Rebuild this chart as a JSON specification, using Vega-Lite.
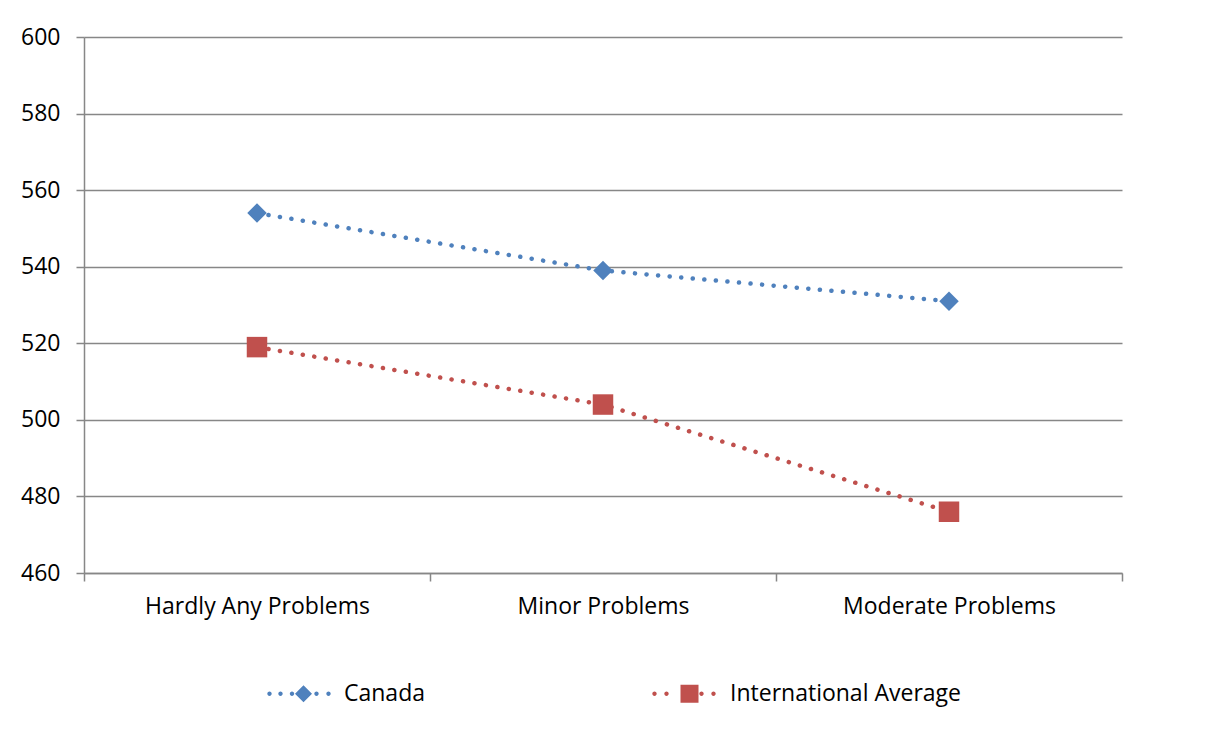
{
  "$schema": "https://vega.github.io/schema/vega-lite/v6.json",
  "width": 1038,
  "height": 536,
  "autosize": {"type": "none"},
  "padding": {"left": 84, "top": 37, "right": 90, "bottom": 161},
  "background": "white",
  "data": {
    "values": [
      {"problems": "Hardly Any Problems", "series": "Canada", "score": 554},
      {"problems": "Minor Problems", "series": "Canada", "score": 539},
      {"problems": "Moderate Problems", "series": "Canada", "score": 531},
      {"problems": "Hardly Any Problems", "series": "International Average", "score": 519},
      {"problems": "Minor Problems", "series": "International Average", "score": 504},
      {"problems": "Moderate Problems", "series": "International Average", "score": 476}
    ]
  },
  "encoding": {
    "x": {
      "field": "problems", "type": "nominal", "sort": null, "title": null,
      "scale": {"type": "band", "paddingInner": 0, "paddingOuter": 0},
      "axis": {
        "tickBand": "extent", "labelAngle": 0, "grid": false, "ticks": true, "tickSize": 8,
        "tickColor": "#878787", "tickWidth": 1.5, "domainColor": "#878787", "domainWidth": 1.5,
        "labelFont": "Open Sans", "labelFontSize": 23, "labelColor": "#000000", "labelPadding": 14, "labelLimit": 400
      }
    },
    "y": {
      "field": "score", "type": "quantitative", "title": null,
      "scale": {"domain": [460, 600], "nice": false, "zero": false},
      "axis": {
        "values": [460, 480, 500, 520, 540, 560, 580, 600],
        "grid": true, "gridColor": "#878787", "gridWidth": 1.5, "gridOpacity": 1,
        "tickSize": 8, "tickColor": "#878787", "tickWidth": 1.5,
        "domainColor": "#878787", "domainWidth": 1.5,
        "labelFont": "Open Sans", "labelFontSize": 23, "labelColor": "#000000", "labelPadding": 16
      }
    },
    "color": {
      "field": "series", "type": "nominal", "title": null,
      "scale": {"domain": ["Canada", "International Average"], "range": ["#4F81BD", "#C0504D"]},
      "legend": {
        "orient": "none",
        "legendX": 208,
        "legendY": 645,
        "direction": "horizontal",
        "padding": 0,
        "symbolSize": 400,
        "gridAlign": "all",
        "columnPadding": 77,
        "labelOffset": 29,
        "labelFont": "Open Sans",
        "labelFontSize": 23,
        "labelColor": "#000000",
        "labelLimit": 400,
        "symbolStrokeWidth": 0,
        "symbolOpacity": 1,
        "encode": {
          "symbols": {
            "update": {
              "shape": {"signal": "datum.value === 'Canada' ? 'M-3.62,0a0.22,0.22 0 1,0 0.44,0a0.22,0.22 0 1,0 -0.44,0M-2.52,0a0.22,0.22 0 1,0 0.44,0a0.22,0.22 0 1,0 -0.44,0M-1.37,0a0.22,0.22 0 1,0 0.44,0a0.22,0.22 0 1,0 -0.44,0M1.08,0a0.22,0.22 0 1,0 0.44,0a0.22,0.22 0 1,0 -0.44,0M2.28,0a0.22,0.22 0 1,0 0.44,0a0.22,0.22 0 1,0 -0.44,0M0,-0.85L0.85,0L0,0.85L-0.85,0Z' : 'M-3.72,0a0.22,0.22 0 1,0 0.44,0a0.22,0.22 0 1,0 -0.44,0M-2.52,0a0.22,0.22 0 1,0 0.44,0a0.22,0.22 0 1,0 -0.44,0M0.98,0a0.22,0.22 0 1,0 0.44,0a0.22,0.22 0 1,0 -0.44,0M2.18,0a0.22,0.22 0 1,0 0.44,0a0.22,0.22 0 1,0 -0.44,0M-0.9,-0.9L0.9,-0.9L0.9,0.9L-0.9,0.9Z'"},
              "fill": {"scale": "color", "field": "value"},
              "stroke": {"value": "transparent"},
              "opacity": {"value": 1}
            }
          }
        }
      }
    }
  },
  "layer": [
    {
      "mark": {"type": "line", "strokeWidth": 4.5, "strokeCap": "round", "strokeDash": [0.1, 11.5]},
      "encoding": {}
    },
    {
      "transform": [{"filter": "datum.series === 'Canada'"}],
      "mark": {"type": "point", "shape": "diamond", "size": 380, "filled": true, "opacity": 1, "strokeWidth": 0},
      "encoding": {}
    },
    {
      "transform": [{"filter": "datum.series === 'International Average'"}],
      "mark": {"type": "point", "shape": "square", "size": 420, "filled": true, "opacity": 1, "strokeWidth": 0},
      "encoding": {}
    }
  ],
  "config": {
    "view": {"stroke": null}
  }
}
